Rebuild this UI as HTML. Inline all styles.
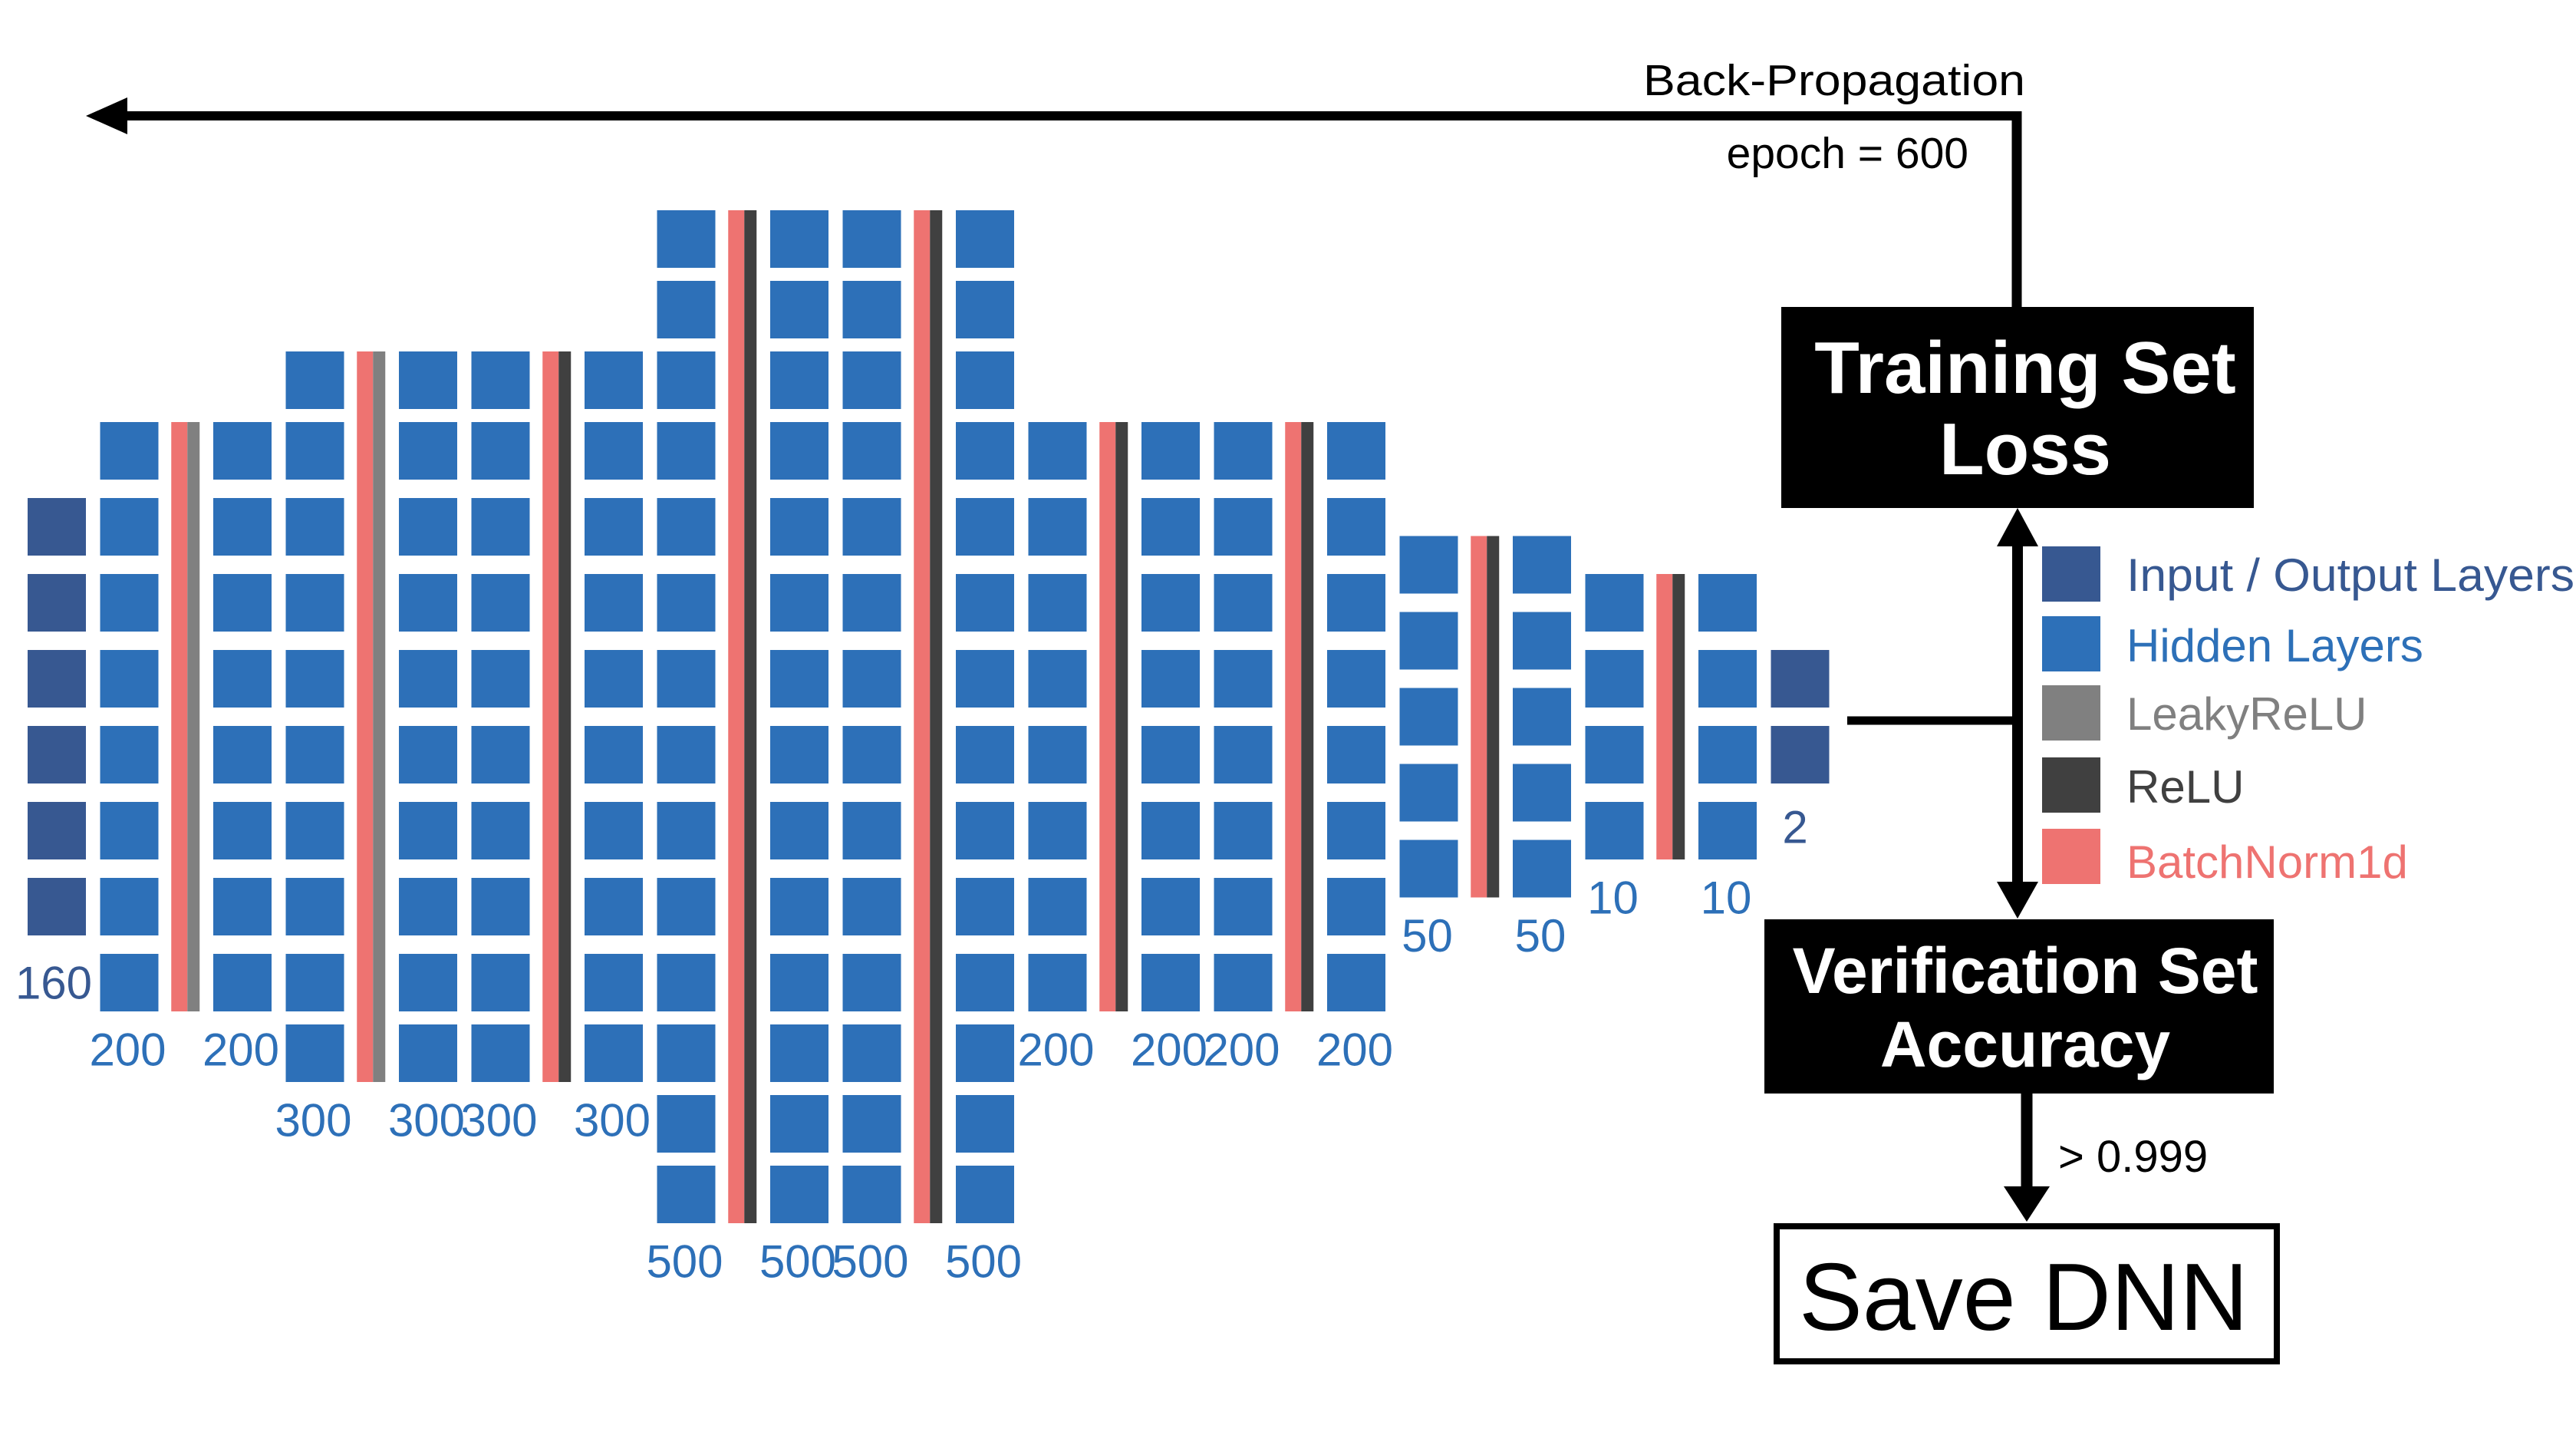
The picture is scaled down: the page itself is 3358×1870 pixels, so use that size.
<!DOCTYPE html>
<html><head><meta charset="utf-8"><style>
html,body{margin:0;padding:0;background:#fff}
svg{display:block}
text{font-family:"Liberation Sans",sans-serif}
</style></head><body>
<svg id="fig" width="3358" height="1870" viewBox="0 0 3358 1870" xmlns="http://www.w3.org/2000/svg">
<g id="net"></g>
<g>
  <line x1="150" y1="151" x2="2635" y2="151" stroke="#000" stroke-width="12"/>
  <polygon points="112,151 166,127 166,175" fill="#000"/>
  <line x1="2629" y1="145" x2="2629" y2="402" stroke="#000" stroke-width="13"/>
  <text x="2640" y="124" font-size="57" text-anchor="end" fill="#000" textLength="498" lengthAdjust="spacingAndGlyphs">Back-Propagation</text>
  <text x="2566" y="219" font-size="57" text-anchor="end" fill="#000">epoch = 600</text>
  <rect x="2322" y="400" width="616" height="262" fill="#000"/>
  <text x="2640" y="512" font-size="96" font-weight="bold" text-anchor="middle" fill="#fff">Training Set</text>
  <text x="2640" y="618" font-size="96" font-weight="bold" text-anchor="middle" fill="#fff">Loss</text>
  <line x1="2408" y1="939" x2="2630" y2="939" stroke="#000" stroke-width="11"/>
  <line x1="2630" y1="700" x2="2630" y2="1160" stroke="#000" stroke-width="14"/>
  <polygon points="2630,662 2603,712 2657,712" fill="#000"/>
  <polygon points="2630,1197 2603,1149 2657,1149" fill="#000"/>
  <rect x="2300" y="1198" width="664" height="227" fill="#000"/>
  <text x="2640" y="1294" font-size="84" font-weight="bold" text-anchor="middle" fill="#fff">Verification Set</text>
  <text x="2640" y="1390" font-size="84" font-weight="bold" text-anchor="middle" fill="#fff">Accuracy</text>
  <line x1="2642" y1="1425" x2="2642" y2="1550" stroke="#000" stroke-width="15"/>
  <polygon points="2642,1592 2612,1546 2672,1546" fill="#000"/>
  <text x="2683" y="1527" font-size="58" fill="#000">&gt; 0.999</text>
  <rect x="2316" y="1598" width="652" height="176" fill="#fff" stroke="#000" stroke-width="8"/>
  <text x="2638" y="1733" font-size="124" text-anchor="middle" fill="#000">Save DNN</text>
</g>
<g>
  <rect x="2662" y="712" width="76" height="72" fill="#375891"/>
  <text x="2772" y="770" font-size="60" fill="#375891" textLength="584" lengthAdjust="spacingAndGlyphs">Input / Output Layers</text>
  <rect x="2662" y="803" width="76" height="72" fill="#2d70b8"/>
  <text x="2772" y="862" font-size="60" fill="#2d70b8">Hidden Layers</text>
  <rect x="2662" y="893" width="76" height="72" fill="#808080"/>
  <text x="2772" y="951" font-size="60" fill="#808080">LeakyReLU</text>
  <rect x="2662" y="987" width="76" height="72" fill="#404040"/>
  <text x="2772" y="1046" font-size="60" fill="#404040">ReLU</text>
  <rect x="2662" y="1080" width="76" height="72" fill="#ee7371"/>
  <text x="2772" y="1144" font-size="60" fill="#ee7371">BatchNorm1d</text>
</g>
</svg>
<script>
const layerSizes = [160,200,200,300,300,300,300,500,500,500,500,200,200,200,200,50,50,10,10,2];
const layerRows = [6,8,8,10,10,10,10,14,14,14,14,8,8,8,8,5,5,4,4,2];
const activations = ['leaky','leaky','relu','relu','relu','relu','relu','relu','relu'];

const NS = 'http://www.w3.org/2000/svg';
const net = document.getElementById('net');
const COLW = 76, ROWH = 75, CENTER = 934, PITCH = 99, EXTRA = 92;
const colors = {io:'#375891', hidden:'#2d70b8', leaky:'#808080', relu:'#404040', bn:'#ee7371'};

function mk(tag, attrs){ const e=document.createElementNS(NS,tag); for(const k in attrs) e.setAttribute(k,attrs[k]); return e; }
function rowTop(i,c){
  const j = i-(c-1)/2, a=Math.abs(j), s=Math.sign(j);
  return CENTER - ROWH/2 + s*(Math.min(a,3.5)*PITCH + Math.max(a-3.5,0)*EXTRA);
}
const xs = [];
let x = 36;
for (let i=0;i<layerSizes.length;i++){
  xs.push(x);
  x += (i%2===1) ? 147.5 : 94.5;
}
function extent(i){ const c=layerRows[i]; return [rowTop(0,c), rowTop(c-1,c)+ROWH]; }

layerSizes.forEach((n,i)=>{
  const g = mk('g',{});
  
  
  const isIO = (i===0 || i===layerSizes.length-1);
  for (let r=0;r<layerRows[i];r++){
    const rc = mk('rect',{x:xs[i], y:rowTop(r,layerRows[i]), width:COLW, height:ROWH, fill: isIO?colors.io:colors.hidden});
    
    
    g.appendChild(rc);
  }
  const [t,b] = extent(i);
  let lx = xs[i]+COLW/2 - 2, ly = b + 50;
  if (i===0){ lx = 70; ly = b + 62; }
  if (i===layerSizes.length-1){ lx = 2340; ly = b + 57; }
  const tx = mk('text',{x:lx, y:ly, 'font-size':60, 'text-anchor':'middle', 'dominant-baseline':'central', fill: isIO?colors.io:colors.hidden});
  
  
  tx.textContent = n;
  g.appendChild(tx);
  net.appendChild(g);
});

activations.forEach((act,k)=>{
  const left = 2*k+1, right = 2*k+2;
  const mid = (xs[left]+COLW + xs[right])/2;
  const [t,b] = extent(left);
  const bn = mk('rect',{x:mid-19, y:t, width:21, height:b-t, fill:colors.bn});
  
  
  const ac = mk('rect',{x:mid+2, y:t, width:16, height:b-t, fill: act==='leaky'?colors.leaky:colors.relu});
  
  
  net.appendChild(bn); net.appendChild(ac);
});
</script>
</body></html>
